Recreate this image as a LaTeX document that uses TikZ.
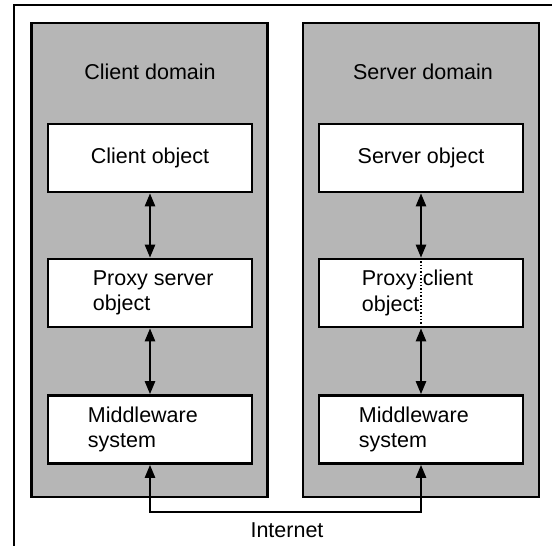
\documentclass[tikz,border=0pt]{standalone}
\usepackage{fontspec}
\setmainfont{Liberation Sans}
\usetikzlibrary{arrows.meta,calc}
\definecolor{domaingray}{RGB}{182,182,182}
\begin{document}
\begin{tikzpicture}[x=1pt,y=-1pt,
  domainbox/.style={draw=black,line width=2.6pt,fill=domaingray,rectangle,inner sep=0pt,minimum width=236pt,minimum height=474pt},
  objbox/.style={draw=black,line width=2.6pt,fill=white,rectangle,inner sep=0pt,minimum width=204pt,minimum height=68pt},
  txt/.style={font=\fontsize{21.5}{25.5}\selectfont,inner sep=0pt,align=left},
  link/.style={line width=2.4pt,{Triangle[length=13pt,width=10pt]}-{Triangle[length=13pt,width=10pt]}},
  frame/.style={line width=2.2pt}]
\useasboundingbox (0,0) rectangle (552,546);
\draw[frame] (552,5) -- (14,5) -- (14,546);
% domains
\node[domainbox] (cd) at (149.5,260) {};
\node[domainbox] (sd) at (421,260) {};
\node[txt] (cdl) at (150,72) {Client domain};
\node[txt] (sdl) at (423,72) {Server domain};
% left column
\node[objbox] (co) at (150,158) {};
\node[txt] (cot) at (co.center) {Client object};
\node[objbox] (ps) at (150,293) {};
\node[txt,anchor=west] (pst) at ($(ps.west)+(46,0)$) {Proxy server\\object};
\node[objbox] (lm) at (150,429.5) {};
\node[txt,anchor=west] (lmt) at ($(lm.west)+(41,0)$) {Middleware\\system};
% right column
\node[objbox] (so) at (421,158) {};
\node[txt] (sot) at (so.center) {Server object};
\node[objbox] (pc) at (421,293) {};
\node[txt,anchor=west] (pct) at ($(pc.west)+(44,0)$) {Proxy client\\object};
\node[objbox] (rm) at (421,429.5) {};
\node[txt,anchor=west] (rmt) at ($(rm.west)+(41,0)$) {Middleware\\system};
% dotted split
\draw[line width=1.4pt,dotted] (pc.north) -- (pc.south);
% links
\draw[link] (co.south) -- (ps.north);
\draw[link] (ps.south) -- (lm.north);
\draw[link] (so.south) -- (pc.north);
\draw[link] (pc.south) -- (rm.north);
\coordinate (net) at (285,512);
\draw[link] (lm.south) |- (net) -| (rm.south);
\node[txt] (nt) at (287,530) {Internet};
\end{tikzpicture}
\end{document}
